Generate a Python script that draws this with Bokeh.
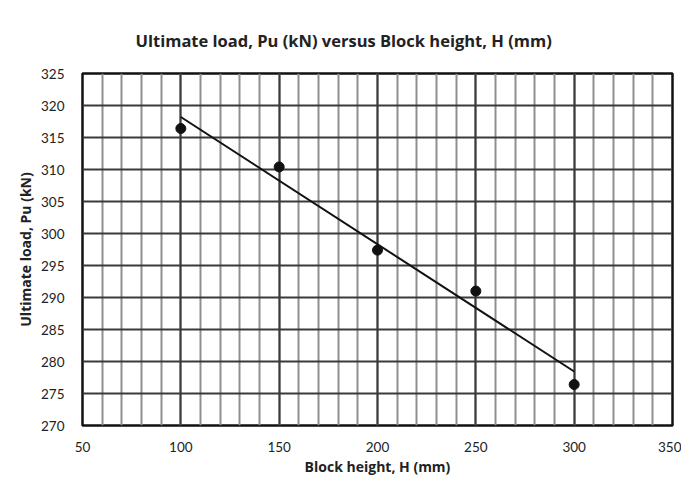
import numpy as np
from bokeh.plotting import figure
from bokeh.models import Range1d, SingleIntervalTicker
from bokeh.embed import file_html
from bokeh.resources import INLINE

# Data
block_height = [100, 150, 200, 250, 300]             # H (mm)
ultimate_load = [316.4, 310.4, 297.4, 291.0, 276.4]  # Pu (kN)
title_text = "Ultimate load, Pu (kN) versus Block height, H (mm)"

# Linear trend line from the data
slope, intercept = np.polyfit(block_height, ultimate_load, 1)
trend_x = [block_height[0], block_height[-1]]
trend_y = [slope * x + intercept for x in trend_x]

p = figure(width=681, height=478, output_backend="svg", toolbar_location=None,
           x_range=Range1d(50, 350), y_range=Range1d(270, 325),
           min_border_left=82, min_border_right=9, min_border_top=73, min_border_bottom=47)

p.title.text = title_text
p.title.align = "left"
p.title.offset = 53
p.title.standoff = 44
p.title.text_font = "Open Sans"
p.title.text_font_size = "16.5px"
p.title.text_font_style = "bold"
p.title.text_color = "#222222"

p.xaxis.ticker = SingleIntervalTicker(interval=50, num_minor_ticks=5)
p.yaxis.ticker = SingleIntervalTicker(interval=5, num_minor_ticks=0)

for ax in (p.xaxis[0], p.yaxis[0]):
    ax.axis_line_color = None
    ax.major_tick_line_color = None
    ax.minor_tick_line_color = None
    ax.major_label_text_font = "Lato"
    ax.major_label_text_font_size = "13.5px"
    ax.major_label_text_color = "#222222"
    ax.axis_label_text_font = "Open Sans"
    ax.axis_label_text_font_style = "bold"
    ax.axis_label_text_font_size = "14px"
    ax.axis_label_text_color = "#222222"

p.xaxis.axis_label = "Block height, H (mm)"
p.yaxis.axis_label = "Ultimate load, Pu (kN)"
p.xaxis.major_label_standoff = 10
p.yaxis.major_label_standoff = 12
p.xaxis.axis_label_standoff = 2
p.yaxis.axis_label_standoff = 3

p.xgrid.ticker = SingleIntervalTicker(interval=50, num_minor_ticks=5)
p.xgrid.grid_line_color = "#3a3a3a"
p.xgrid.grid_line_width = 2
p.xgrid.grid_line_alpha = 1
p.xgrid.minor_grid_line_color = "#8f8f8f"
p.xgrid.minor_grid_line_width = 2
p.ygrid.ticker = SingleIntervalTicker(interval=5, num_minor_ticks=0)
p.ygrid.grid_line_color = "#3a3a3a"
p.ygrid.grid_line_width = 2
p.ygrid.grid_line_alpha = 1

p.outline_line_color = "#111111"
p.outline_line_width = 2.5
p.background_fill_color = "white"
p.border_fill_color = "white"

p.line(trend_x, trend_y, line_color="#111111", line_width=2)
p.scatter(block_height, ultimate_load, size=10, fill_color="#111111", line_color="#111111")

open("out.html", "w").write(file_html(p, INLINE))
